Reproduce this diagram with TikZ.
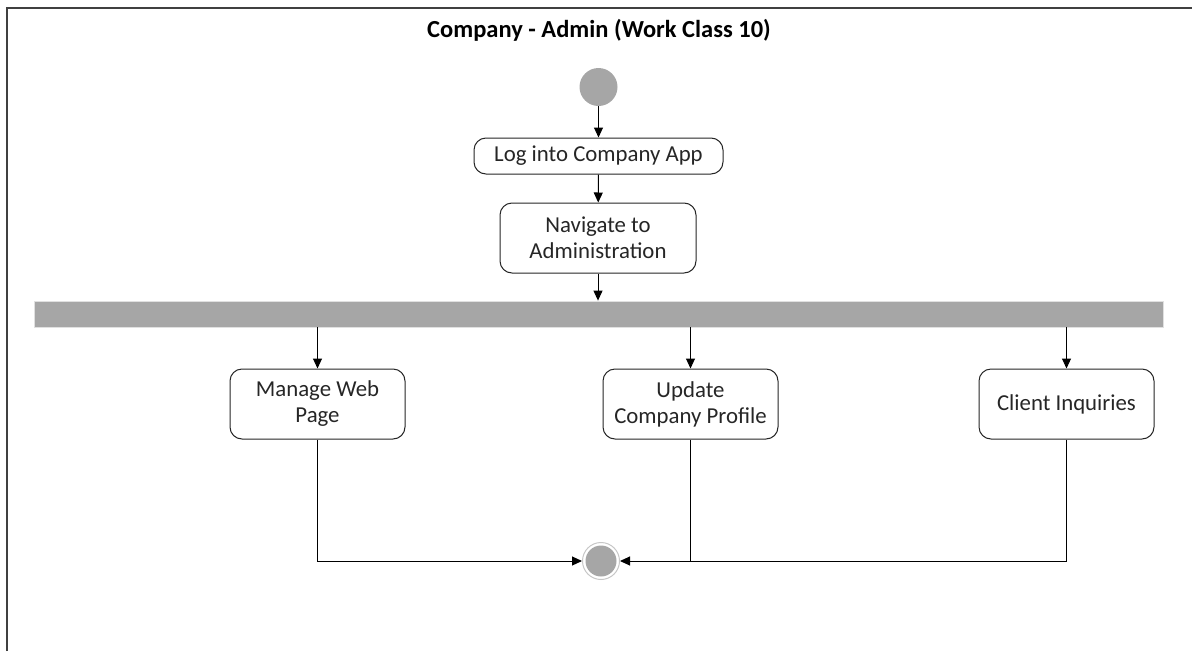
\documentclass[tikz,border=0pt]{standalone}
\usepackage{fontspec}
\setmainfont{Carlito}
\usetikzlibrary{arrows.meta}
\definecolor{barfill}{HTML}{A6A6A6}
\begin{document}
\begin{tikzpicture}[x=1pt,y=-1pt,
  action/.style={draw=black!85, line width=1pt, rounded corners=12pt, fill=white,
    align=center, inner sep=0pt, text=black!85,
    font=\fontsize{22.8}{26}\selectfont},
  initial/.style={circle, fill=barfill, minimum size=38pt, inner sep=0pt},
  final/.style={circle, draw=black!22, line width=1pt, fill=white, minimum size=37pt, inner sep=0pt,
    path picture={\fill[barfill] (path picture bounding box.center) circle (15.5pt);}},
  forkbar/.style={draw=black!12, line width=0.8pt, fill=barfill, inner sep=0pt},
  flow/.style={draw=black, line width=1pt, -{Triangle[length=10pt,width=9pt]}},
  link/.style={draw=black, line width=1pt},
  ]
\useasboundingbox (0,0) rectangle (1192,651);
% outer frame (left and top edges)
\draw[line width=1.5pt, black!75] (7,651) -- (7,8) -- (1192,8);
\node[font=\bfseries\fontsize{24.5}{28}\selectfont, text=black] (title) at (599,30) {Company - Admin (Work Class 10)};

% nodes
\node[initial] (start) at (598.5,87) {};
\node[action, minimum width=249pt, minimum height=36pt] (log) at (598.5,156) {Log into Company App};
\node[action, minimum width=196pt, minimum height=70pt] (nav) at (598,238) {Navigate to\\Administration};
\node[forkbar, minimum width=1129pt, minimum height=26pt] (bar) at (598.5,314) {};
\node[action, minimum width=175pt, minimum height=70pt] (manage) at (317.5,404) {Manage Web\\Page};
\node[action, minimum width=175pt, minimum height=70pt] (update) at (690.5,404) {Update\\Company Profile};
\node[action, minimum width=175pt, minimum height=70pt] (client) at (1066.5,404) {Client Inquiries};
\node[final] (end) at (601,561) {};

% control flow
\draw[flow] (start) -- (log);
\draw[flow] (log) -- (nav);
\draw[flow] (nav) -- (nav |- bar.north);
\draw[flow] (manage.north |- bar.south) -- (manage.north);
\draw[flow] (update.north |- bar.south) -- (update.north);
\draw[flow] (client.north |- bar.south) -- (client.north);
\draw[flow] (manage.south) |- (end.west);
\draw[flow] (client.south) |- (end.east);
\draw[link] (update.south) -- (update.south |- end.center);
\end{tikzpicture}
\end{document}
